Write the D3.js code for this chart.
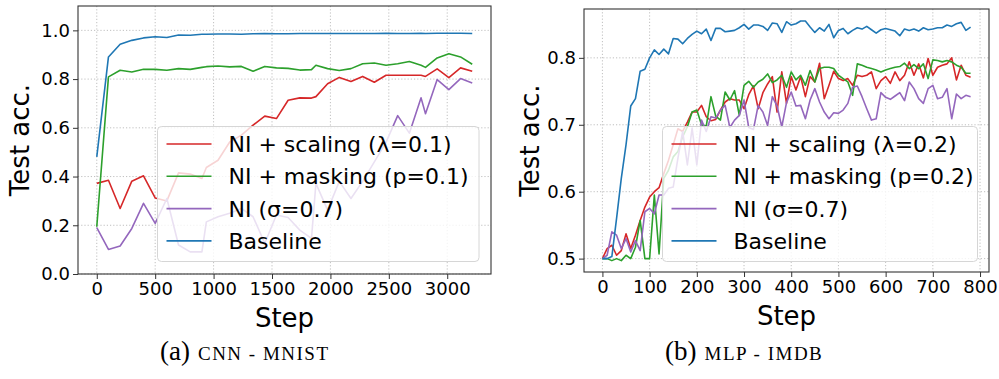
<!DOCTYPE html>
<html>
<head>
<meta charset="utf-8">
<script src="https://cdn.jsdelivr.net/npm/d3@7"></script>
<style>
  body { margin: 0; background: #fff; }
  svg { display: block; font-family: "DejaVu Sans", sans-serif; }
  .grid line { stroke: #b0b0b0; stroke-width: 0.8; stroke-dasharray: 1.2 2; }
</style>
</head>
<body>
<div id="chart"></div>
<script>
// (a) CNN - MNIST
const stepsA = [0, 100, 200, 300, 400, 500, 600, 700, 800, 900,
  938, 1038, 1138, 1238, 1338, 1438, 1538, 1638, 1738, 1838,
  1876, 1976, 2076, 2176, 2276, 2376, 2476, 2576, 2676, 2776,
  2814, 2914, 3014, 3114, 3214];
const scalingA = [0.372, 0.385, 0.269, 0.381, 0.403, 0.312, 0.300, 0.415, 0.410, 0.392,
  0.437, 0.467, 0.542, 0.570, 0.611, 0.648, 0.638, 0.713, 0.723, 0.722,
  0.728, 0.781, 0.807, 0.790, 0.811, 0.787, 0.816, 0.816, 0.816, 0.816,
  0.811, 0.842, 0.806, 0.846, 0.832];
const maskingA = [0.194, 0.809, 0.836, 0.829, 0.840, 0.840, 0.836, 0.843, 0.840, 0.848,
  0.851, 0.854, 0.850, 0.852, 0.832, 0.852, 0.846, 0.844, 0.837, 0.839,
  0.857, 0.843, 0.835, 0.843, 0.863, 0.866, 0.857, 0.863, 0.872, 0.857,
  0.848, 0.887, 0.904, 0.891, 0.861];
const niA = [0.190, 0.101, 0.115, 0.187, 0.290, 0.208, 0.310, 0.119, 0.091, 0.091,
  0.214, 0.235, 0.249, 0.269, 0.235, 0.126, 0.242, 0.232, 0.180, 0.146,
  0.372, 0.262, 0.380, 0.310, 0.380, 0.460, 0.540, 0.650, 0.578, 0.723,
  0.658, 0.798, 0.757, 0.802, 0.784];
const baselineA = [0.481, 0.891, 0.943, 0.959, 0.969, 0.974, 0.971, 0.981, 0.980, 0.984,
  0.984, 0.985, 0.985, 0.984, 0.986, 0.987, 0.986, 0.986, 0.987, 0.987,
  0.987, 0.987, 0.987, 0.987, 0.987, 0.987, 0.988, 0.987, 0.987, 0.988,
  0.987, 0.988, 0.988, 0.988, 0.987];

// (b) MLP - IMDB
const stepsB = [0, 10, 20, 30, 40, 50, 60, 70, 80, 90,
  100, 110, 120, 130, 140, 150, 160, 170, 180, 190,
  200, 210, 220, 230, 240, 250, 260, 270, 280, 290,
  300, 310, 320, 330, 340, 350, 360, 370, 380, 390,
  400, 410, 420, 430, 440, 450, 460, 470, 480, 490,
  500, 510, 520, 530, 540, 550, 560, 570, 580, 590,
  600, 610, 620, 630, 640, 650, 660, 670, 680, 690,
  700, 710, 720, 730, 740, 750, 760, 770, 780];
const scalingB = [0.500, 0.515, 0.520, 0.505, 0.512, 0.537, 0.515, 0.535, 0.557, 0.577,
  0.592, 0.600, 0.606, 0.627, 0.647, 0.670, 0.694, 0.690, 0.704, 0.719,
  0.719, 0.729, 0.712, 0.706, 0.708, 0.722, 0.734, 0.739, 0.737, 0.737,
  0.724, 0.745, 0.758, 0.724, 0.748, 0.761, 0.772, 0.719, 0.779, 0.732,
  0.772, 0.752, 0.772, 0.742, 0.772, 0.764, 0.792, 0.739, 0.759, 0.780,
  0.769, 0.766, 0.769, 0.759, 0.774, 0.772, 0.774, 0.779, 0.754, 0.766,
  0.772, 0.762, 0.779, 0.766, 0.774, 0.794, 0.774, 0.791, 0.770, 0.799,
  0.774, 0.786, 0.789, 0.791, 0.800, 0.767, 0.789, 0.774, 0.771];
const maskingB = [0.500, 0.500, 0.497, 0.500, 0.497, 0.505, 0.500, 0.517, 0.557, 0.500,
  0.500, 0.595, 0.507, 0.620, 0.632, 0.652, 0.660, 0.682, 0.697, 0.719,
  0.722, 0.700, 0.698, 0.742, 0.713, 0.707, 0.749, 0.737, 0.751, 0.714,
  0.759, 0.765, 0.756, 0.764, 0.768, 0.776, 0.763, 0.767, 0.774, 0.756,
  0.779, 0.767, 0.774, 0.759, 0.781, 0.764, 0.784, 0.786, 0.786, 0.784,
  0.774, 0.769, 0.764, 0.744, 0.791, 0.789, 0.786, 0.784, 0.782, 0.779,
  0.782, 0.784, 0.786, 0.787, 0.792, 0.784, 0.790, 0.784, 0.791, 0.769,
  0.797, 0.796, 0.794, 0.796, 0.794, 0.789, 0.786, 0.777, 0.777];
const niB = [0.500, 0.505, 0.540, 0.535, 0.515, 0.530, 0.510, 0.527, 0.512, 0.570,
  0.575, 0.567, 0.595, 0.595, 0.605, 0.607, 0.650, 0.690, 0.640, 0.695,
  0.640, 0.707, 0.690, 0.712, 0.710, 0.722, 0.729, 0.696, 0.707, 0.714,
  0.737, 0.696, 0.693, 0.729, 0.719, 0.699, 0.742, 0.728, 0.697, 0.733,
  0.749, 0.728, 0.729, 0.709, 0.737, 0.754, 0.734, 0.719, 0.709, 0.718,
  0.717, 0.722, 0.732, 0.756, 0.758, 0.742, 0.724, 0.707, 0.709, 0.748,
  0.741, 0.738, 0.743, 0.748, 0.736, 0.764, 0.754, 0.739, 0.732, 0.754,
  0.759, 0.739, 0.741, 0.754, 0.709, 0.746, 0.739, 0.744, 0.742];
const baselineB = [0.500, 0.500, 0.503, 0.560, 0.620, 0.670, 0.728, 0.739, 0.780, 0.783,
  0.800, 0.812, 0.805, 0.813, 0.806, 0.829, 0.828, 0.821, 0.829, 0.835,
  0.840, 0.836, 0.843, 0.826, 0.844, 0.844, 0.839, 0.840, 0.841, 0.845,
  0.850, 0.843, 0.849, 0.849, 0.847, 0.841, 0.852, 0.851, 0.838, 0.854,
  0.849, 0.851, 0.855, 0.855, 0.846, 0.838, 0.845, 0.840, 0.850, 0.830,
  0.841, 0.844, 0.836, 0.841, 0.845, 0.843, 0.847, 0.842, 0.837, 0.842,
  0.844, 0.842, 0.840, 0.833, 0.843, 0.841, 0.843, 0.840, 0.845, 0.842,
  0.843, 0.845, 0.845, 0.849, 0.847, 0.851, 0.853, 0.841, 0.846];

const xTicksA = [0, 500, 1000, 1500, 2000, 2500, 3000];
const yTicksA = [0.0, 0.2, 0.4, 0.6, 0.8, 1.0];
const xTicksB = [0, 100, 200, 300, 400, 500, 600, 700, 800];
const yTicksB = [0.5, 0.6, 0.7, 0.8];

const legendA = ["NI + scaling (\u03bb=0.1)", "NI + masking (p=0.1)", "NI (\u03c3=0.7)", "Baseline"];
const legendB = ["NI + scaling (\u03bb=0.2)", "NI + masking (p=0.2)", "NI (\u03c3=0.7)", "Baseline"];
const colors = ["#d62728", "#2ca02c", "#9467bd", "#1f77b4"];

const svg = d3.select("#chart").append("svg")
  .attr("width", 999)
  .attr("height", 379);

function panel(opts) {
  const x = d3.scaleLinear().domain(opts.xDomain).range([opts.left, opts.right]);
  const y = d3.scaleLinear().domain(opts.yDomain).range([opts.bottom, opts.top]);
  const g = svg.append("g");

  // dotted grid
  const grid = g.append("g").attr("class", "grid");
  grid.selectAll(".gx").data(opts.xTicks).enter().append("line")
    .attr("x1", d => x(d)).attr("x2", d => x(d))
    .attr("y1", opts.top).attr("y2", opts.bottom);
  grid.selectAll(".gy").data(opts.yTicks).enter().append("line")
    .attr("x1", opts.left).attr("x2", opts.right)
    .attr("y1", d => y(d)).attr("y2", d => y(d));

  g.append("clipPath").attr("id", opts.id + "-clip")
    .append("rect")
    .attr("x", opts.left).attr("y", opts.top)
    .attr("width", opts.right - opts.left).attr("height", opts.bottom - opts.top);

  const line = d3.line()
    .x(d => x(d[0]))
    .y(d => y(d[1]));

  opts.series.forEach((vals, i) => {
    g.append("path")
      .datum(opts.steps.map((s, j) => [s, vals[j]]))
      .attr("clip-path", `url(#${opts.id}-clip)`)
      .attr("fill", "none")
      .attr("stroke", colors[i])
      .attr("stroke-width", 1.6)
      .attr("stroke-linejoin", "round")
      .attr("d", line);
  });

  // axes
  const xAxis = g.append("g")
    .attr("transform", `translate(0, ${opts.bottom})`)
    .call(d3.axisBottom(x).tickValues(opts.xTicks).tickSize(5).tickPadding(3)
      .tickFormat(d3.format("d")));
  const yAxis = g.append("g")
    .attr("transform", `translate(${opts.left}, 0)`)
    .call(d3.axisLeft(y).tickValues(opts.yTicks).tickSize(5).tickPadding(3)
      .tickFormat(d3.format(".1f")));
  [xAxis, yAxis].forEach(a => {
    a.select(".domain").remove();
    a.selectAll(".tick line").attr("stroke", "#333").attr("stroke-width", 1);
    a.selectAll("text")
      .attr("fill", "#000")
      .style("font-family", "DejaVu Sans")
      .style("font-size", "18px");
  });

  g.append("rect")
    .attr("x", opts.left).attr("y", opts.top)
    .attr("width", opts.right - opts.left).attr("height", opts.bottom - opts.top)
    .attr("fill", "none")
    .attr("stroke", "#333")
    .attr("stroke-width", 1.1);

  g.append("text")
    .attr("x", (opts.left + opts.right) / 2)
    .attr("y", opts.bottom + 53)
    .attr("text-anchor", "middle")
    .style("font-size", "26px")
    .text("Step");

  g.append("text")
    .attr("transform", `translate(${opts.left - opts.ylabOff}, ${(opts.top + opts.bottom) / 2}) rotate(-90)`)
    .attr("text-anchor", "middle")
    .style("font-size", "26px")
    .text("Test acc.");

  // legend
  const lg = g.append("g").attr("transform", `translate(${opts.legendX}, ${opts.legendY})`);
  lg.append("rect")
    .attr("width", opts.legendW).attr("height", 135)
    .attr("rx", 4)
    .attr("fill", "#fff").attr("fill-opacity", 0.8)
    .attr("stroke", "#d6d6d6");
  opts.legend.forEach((name, i) => {
    const yy = 17.5 + i * 32.3;
    lg.append("line")
      .attr("x1", 9).attr("x2", 54)
      .attr("y1", yy).attr("y2", yy)
      .attr("stroke", colors[i]).attr("stroke-width", 1.6);
    lg.append("text")
      .attr("x", 71).attr("y", yy + 8)
      .style("font-size", "22px")
      .text(name);
  });

  // caption
  const cap = g.append("text")
    .attr("x", opts.capX).attr("y", 360)
    .style("font-family", "Liberation Serif, serif")
    .style("font-size", "27px");
  cap.append("tspan").text(opts.capA);
  cap.append("tspan").attr("dx", 8)
    .style("font-size", "19px").style("letter-spacing", "1.5px").text(opts.capB);
}

panel({
  id: "a", left: 78, right: 491, top: 6, bottom: 274, ylabOff: 49,
  xDomain: [-160.7, 3374.7], yDomain: [0, 1.1],
  xTicks: xTicksA, yTicks: yTicksA,
  steps: stepsA, series: [scalingA, maskingA, niA, baselineA],
  legend: legendA, legendX: 157.5, legendY: 126.5, legendW: 321.5,
  capX: 160, capA: "(a)", capB: "CNN - MNIST"
});

panel({
  id: "b", left: 584, right: 989, top: 9, bottom: 272, ylabOff: 45,
  xDomain: [-39, 819], yDomain: [0.48, 0.873],
  xTicks: xTicksB, yTicks: yTicksB,
  steps: stepsB, series: [scalingB, maskingB, niB, baselineB],
  legend: legendB, legendX: 662.5, legendY: 126.5, legendW: 315,
  capX: 665, capA: "(b)", capB: "MLP - IMDB"
});
</script>
</body>
</html>
